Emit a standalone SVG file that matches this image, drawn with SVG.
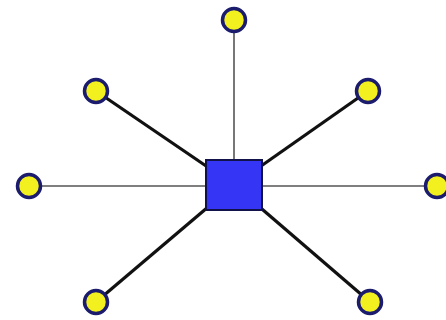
<svg xmlns="http://www.w3.org/2000/svg" width="446" height="320" viewBox="0 0 446 320">
<style>
.leaf{fill:#f2f01e;stroke:#1c1c6e;stroke-width:3.5}
.thin{stroke:#555;stroke-width:1.6;fill:none}
.thick{stroke:#111;stroke-width:3.2;fill:none}
.hub{fill:#3535f5;stroke:#12124a;stroke-width:2}
</style>
<rect width="446" height="320" fill="#ffffff"/>
<g id="connectors">
<line class="thin" x1="234" y1="20" x2="234" y2="185"/>
<line class="thin" x1="29" y1="186" x2="234" y2="186"/>
<line class="thin" x1="234" y1="186" x2="437" y2="186"/>
<line class="thick" x1="96" y1="91" x2="234" y2="185"/>
<line class="thick" x1="368" y1="91" x2="234" y2="185"/>
<line class="thick" x1="96" y1="302" x2="234" y2="185"/>
<line class="thick" x1="370" y1="302" x2="234" y2="185"/>
</g>
<g id="hub"><rect class="hub" x="206" y="160" width="56" height="50"/></g>
<g id="n-top"><circle class="leaf" cx="234" cy="20" r="11.5"/></g>
<g id="n-upper-left"><circle class="leaf" cx="96" cy="91" r="11.5"/></g>
<g id="n-upper-right"><circle class="leaf" cx="368" cy="91" r="11.5"/></g>
<g id="n-left"><circle class="leaf" cx="29" cy="186" r="11.5"/></g>
<g id="n-right"><circle class="leaf" cx="437" cy="186" r="11.5"/></g>
<g id="n-lower-left"><circle class="leaf" cx="96" cy="302" r="11.5"/></g>
<g id="n-lower-right"><circle class="leaf" cx="370" cy="302" r="11.5"/></g>
</svg>
